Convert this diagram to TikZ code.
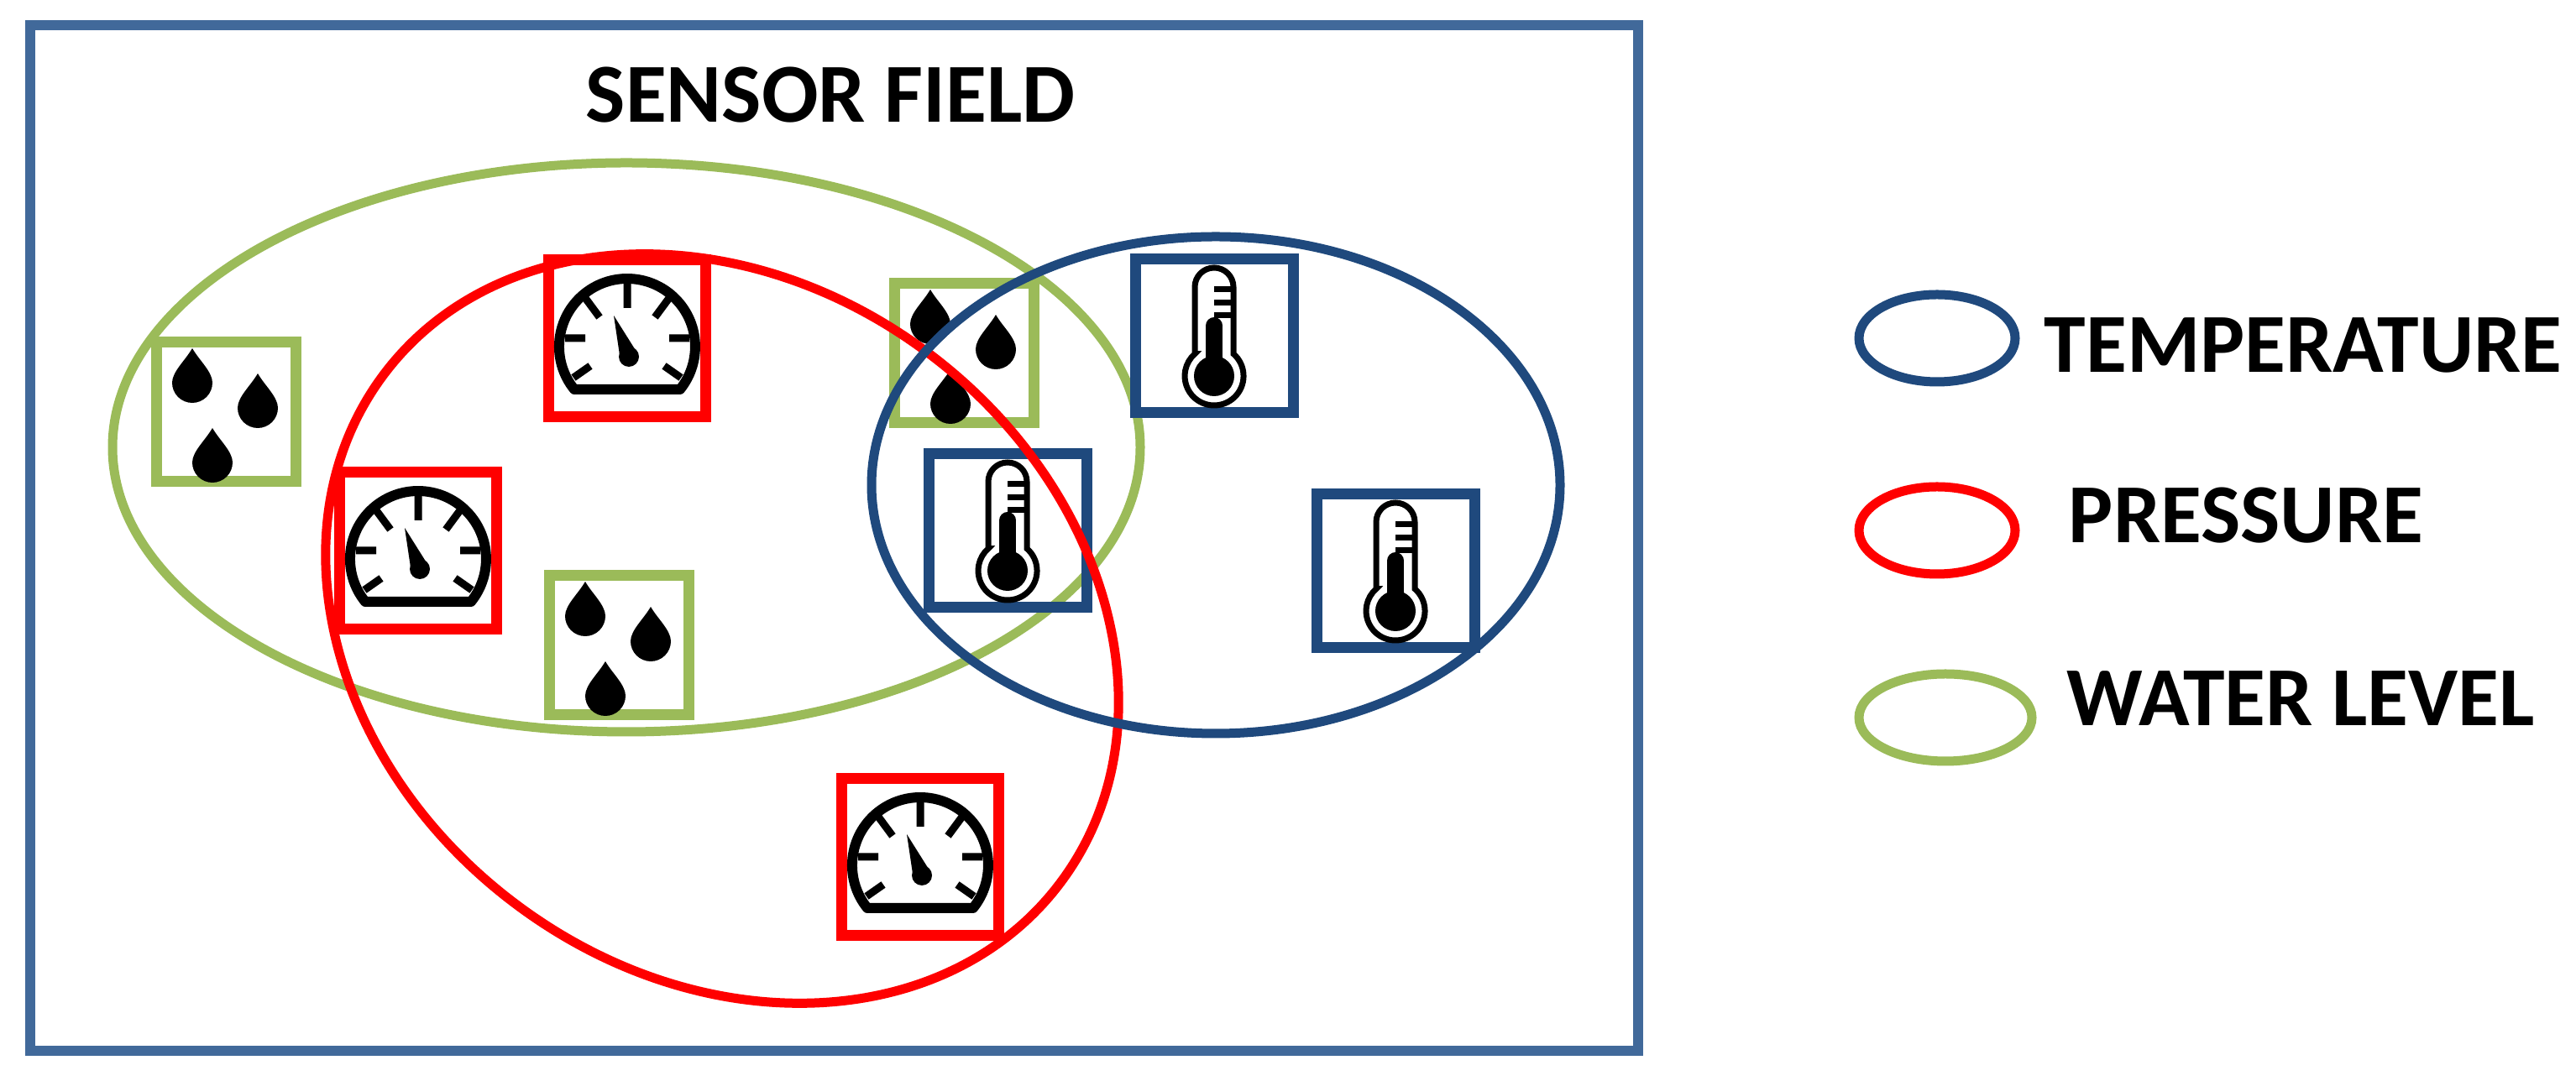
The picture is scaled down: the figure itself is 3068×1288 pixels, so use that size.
\documentclass[tikz,border=0pt]{standalone}
\usepackage{fontspec}
\setmainfont{Carlito}
\usetikzlibrary{shapes.geometric}
\definecolor{framecol}{HTML}{41699A}
\definecolor{tempcol}{HTML}{1F497D}
\definecolor{prescol}{HTML}{FF0000}
\definecolor{watercol}{HTML}{9BBB59}
\tikzset{
  x=.5pt,y=.5pt,
  framebox/.style={draw=framecol,line width=6pt,rectangle,inner sep=0pt,minimum width=957.5pt,minimum height=611pt},
  ring/.style={ellipse,inner sep=0pt,line width=5.5pt},
  ticklabel/.style={font=\fontsize{50}{60}\selectfont\bfseries,text=black,inner sep=0pt},
  gaugebox/.style={rectangle,draw=prescol,line width=6.5pt,inner sep=0pt,minimum size=93.5pt},
  dropbox/.style={rectangle,draw=watercol,line width=6.5pt,inner sep=0pt,minimum size=83pt},
  thermobox/.style={rectangle,draw=tempcol,line width=6.5pt,inner sep=0pt,minimum width=94pt,minimum height=91.5pt},
  onedrop/.pic={
    \fill[black] (0,0) .. controls (-8,-14) and (-24,-28) .. (-24,-41)
      arc (180:360:24) .. controls (24,-28) and (8,-14) .. (0,0) -- cycle;
  },
  dropicon/.pic={
    \pic at (-40,76) {onedrop};
    \pic at (38,46) {onedrop};
    \pic at (-16,-19) {onedrop};
  },
  gaugeicon/.pic={
    \draw[black,line width=6pt,line join=round] (-63,-61) arc (219:-39:81) -- cycle;
    \draw[black,line width=4.5pt]
      (0,71) -- (0,36)
      (-50,48) -- (-33,25) (50,48) -- (33,25)
      (-74,0) -- (-50,0) (74,0) -- (50,0)
      (-64,-47) -- (-44,-33) (64,-47) -- (44,-33);
    \fill[black] (-16,27) -- (-9,-20) -- (11,-16) -- cycle;
    \fill[black] (2,-22) circle[radius=12];
  },
  thermoicon/.pic={
    \draw[black,line width=3.5pt]
      (-23,-21.6) -- (-23,58) arc (180:0:23) -- (23,-21.6)
      arc (49:-229:35) -- cycle;
    \fill[black] (0,-48) circle[radius=24];
    \fill[black] (-10,-40) rectangle (10,12);
    \fill[black] (0,12) circle[radius=10];
    \draw[black,line width=3.5pt]
      (0,55) -- (20,55) (0,39) -- (20,39) (0,24) -- (20,24);
  },
}
\begin{document}
\begin{tikzpicture}
\useasboundingbox (0,0) rectangle (3068,1288);
\node[framebox] (field) at (993.5,647) {};
\node[ticklabel] (title) at (989,1175) {SENSOR FIELD};

\node[ring,draw=watercol,minimum width=612pt,minimum height=339pt] (watergroup) at (746,755) {};

\node[dropbox] (d1) at (269,797) {};
\node[dropbox] (d2) at (737,519) {};
\node[dropbox] (d3) at (1148,867) {};
\pic at (d1) {dropicon};
\pic at (d2) {dropicon};
\pic at (d3) {dropicon};

\node[gaugebox] (g1) at (747,885) {};
\node[gaugebox] (g2) at (498,632) {};
\node[gaugebox] (g3) at (1096,267) {};
\pic at (g1) {gaugeicon};
\pic at (g2) {gaugeicon};
\pic at (g3) {gaugeicon};

\node[thermobox] (t1) at (1446,888) {};
\node[thermobox] (t2) at (1200,656) {};
\node[thermobox] (t3) at (1662,608) {};
\pic at (t1) {thermoicon};
\pic at (t2) {thermoicon};
\pic at (t3) {thermoicon};

\node[ring,draw=prescol,minimum width=504pt,minimum height=410pt,rotate=-37] (presgroup) at (860,539) {};
\node[ring,draw=tempcol,minimum width=410pt,minimum height=296pt] (tempgroup) at (1448,710) {};

\node[ring,draw=tempcol,minimum width=93pt,minimum height=52pt] (legtemp) at (2307,885) {};
\node[ring,draw=prescol,minimum width=93pt,minimum height=52pt] (legpres) at (2307,656) {};
\node[ring,draw=watercol,minimum width=103pt,minimum height=52pt] (legwater) at (2317,433) {};
\node[ticklabel] (labtemp) at (2743,877) {TEMPERATURE};
\node[ticklabel] (labpres) at (2675,674) {PRESSURE};
\node[ticklabel] (labwater) at (2740,456) {WATER LEVEL};
\end{tikzpicture}
\end{document}
